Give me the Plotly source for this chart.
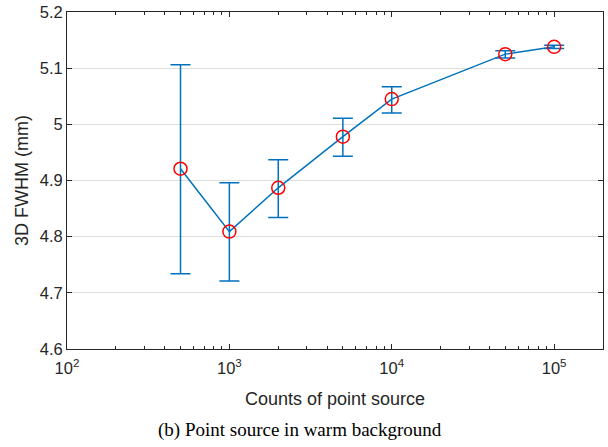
import plotly.graph_objects as go

counts = [500, 1000, 2000, 5000, 10000, 50000, 100000]
fwhm = [4.921, 4.809, 4.887, 4.978, 5.045, 5.125, 5.138]
err_plus = [0.185, 0.087, 0.050, 0.033, 0.022, 0.006, 0.003]
err_minus = [0.187, 0.088, 0.053, 0.035, 0.025, 0.007, 0.003]

x_tickvals = [100, 1000, 10000, 100000]
x_ticktext = ["10<sup>2</sup>", "10<sup>3</sup>", "10<sup>4</sup>", "10<sup>5</sup>"]
x_minor = [m * d for d in [100, 1000, 10000, 100000] for m in range(2, 10)]
y_tickvals = [4.6, 4.7, 4.8, 4.9, 5.0, 5.1, 5.2]
y_ticktext = ["4.6", "4.7", "4.8", "4.9", "5", "5.1", "5.2"]

blue = "#0072BD"
axcol = "#262626"

fig = go.Figure()
fig.add_trace(go.Scatter(
    x=counts, y=fwhm, mode="lines",
    line=dict(color=blue, width=1.5),
    error_y=dict(type="data", symmetric=False, array=err_plus, arrayminus=err_minus,
                 color=blue, thickness=1.5, width=10),
    showlegend=False,
))
fig.add_trace(go.Scatter(
    x=counts, y=fwhm, mode="markers",
    marker=dict(symbol="circle-open", size=13, color="#FF0000", line=dict(width=1.5, color="#FF0000")),
    showlegend=False,
))

fig.update_layout(
    width=608, height=447,
    margin=dict(l=67, r=5, t=12, b=98),
    paper_bgcolor="white", plot_bgcolor="white",
    font=dict(family="Liberation Sans, Arial, sans-serif", color=axcol),
    xaxis=dict(
        type="log", range=[2, 5.301], automargin=False,
        tickmode="array", tickvals=x_tickvals, ticktext=x_ticktext,
        ticks="inside", ticklen=5, tickcolor=axcol, tickwidth=1,
        ticklabelstandoff=4,
        minor=dict(tickmode="array", tickvals=x_minor, ticks="inside", ticklen=3,
                   tickcolor=axcol, showgrid=False),
        showline=True, linecolor=axcol, linewidth=1, mirror="ticks",
        showgrid=False, zeroline=False,
        tickfont=dict(size=16.5, color=axcol),
        title=dict(text="Counts of point source", font=dict(size=18, color=axcol), standoff=16),
    ),
    yaxis=dict(
        range=[4.6, 5.2], automargin=False,
        tickmode="array", tickvals=y_tickvals, ticktext=y_ticktext,
        ticks="inside", ticklen=5, tickcolor=axcol, tickwidth=1,
        showline=True, linecolor=axcol, linewidth=1, mirror="ticks",
        showgrid=True, gridcolor="#DEDEDE", gridwidth=1, zeroline=False,
        tickfont=dict(size=16.5, color=axcol),
        title=dict(text="3D FWHM (mm)", font=dict(size=18, color=axcol), standoff=6),
    ),
    annotations=[dict(
        text="(b) Point source in warm background",
        xref="paper", yref="paper", x=(300 - 67) / 536, y=(349 - 430) / 337,
        xanchor="center", yanchor="middle", showarrow=False,
        font=dict(family="Liberation Serif, Times New Roman, serif", size=19, color="black"),
    )],
)

fig.write_html("out.html", config={"displayModeBar": False},
               post_script="document.body.style.margin='0';document.body.style.overflow='hidden';")
